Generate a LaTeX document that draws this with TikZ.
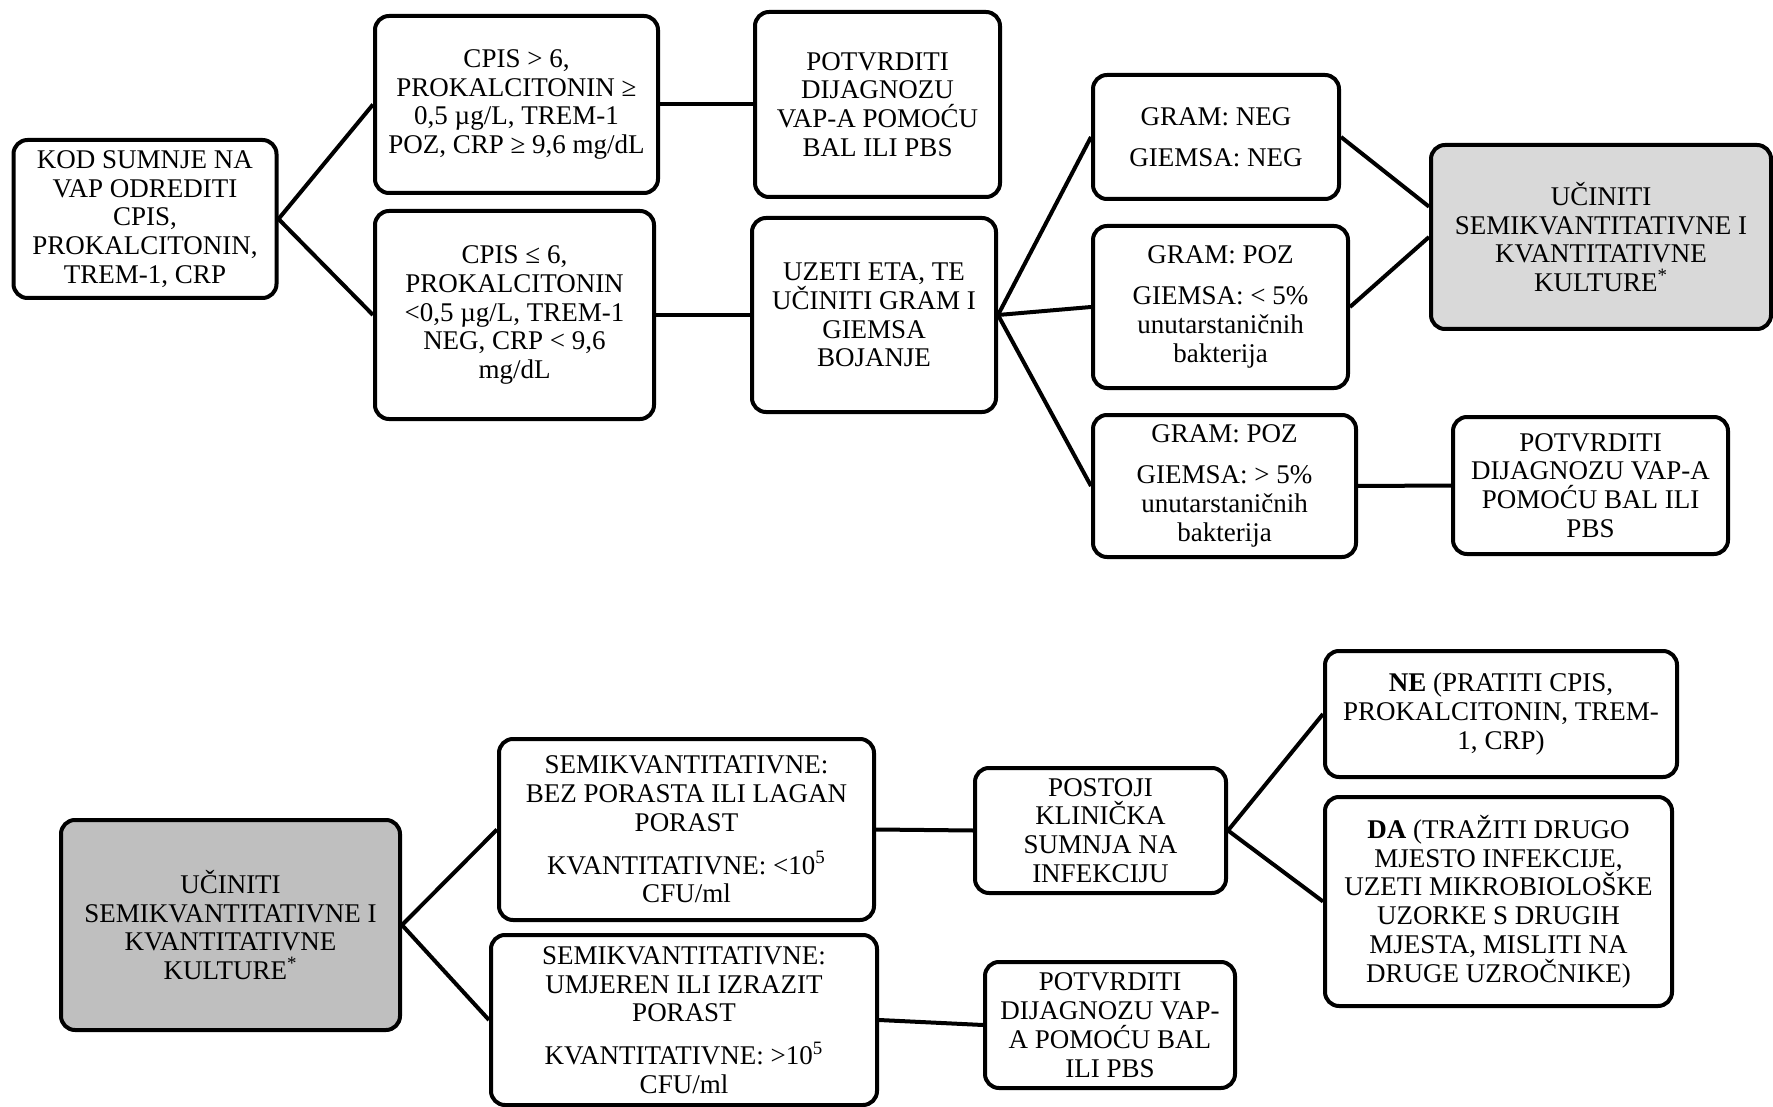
\documentclass[tikz,border=0pt]{standalone}
\usepackage{fontspec}
\setmainfont{Liberation Serif}
\usetikzlibrary{positioning}

\begin{document}
\begin{tikzpicture}[
    x=0.5pt, y=-0.5pt,
    box/.style={draw, line width=2pt, rounded corners=7pt, align=center, inner sep=2pt,
        font=\fontsize{13.5}{14.4}\selectfont},
    lightbox/.style={box, fill=black!15},
    graybox/.style={box, fill=black!25},
    link/.style={line width=2pt}
]
\useasboundingbox (0,0) rectangle (1773,1107);

    % Upper chart: suspicion of VAP
    \node[box, minimum width=131.5pt, minimum height=79pt] (kod) at (145,219)
        {KOD SUMNJE NA\\VAP ODREDITI\\CPIS,\\PROKALCITONIN,\\TREM-1, CRP};
    \node[box, minimum width=141.5pt, minimum height=88.5pt] (hi) at (516.5,104.5)
        {CPIS > 6,\\PROKALCITONIN ≥\\0,5 µg/L, TREM-1\\POZ, CRP ≥ 9,6 mg/dL};
    \node[box, minimum width=122.5pt, minimum height=92.5pt] (pot1) at (877.5,104.5)
        {POTVRDITI\\DIJAGNOZU\\VAP-A POMOĆU\\BAL ILI PBS};
    \node[box, minimum width=139.5pt, minimum height=104pt] (lo) at (514.5,315)
        {CPIS ≤ 6,\\PROKALCITONIN\\<0,5 µg/L, TREM-1\\NEG, CRP < 9,6\\mg/dL};
    \node[box, minimum width=122pt, minimum height=97pt] (eta) at (874,315)
        {UZETI ETA, TE\\UČINITI GRAM I\\GIEMSA\\BOJANJE};

    % Gram and Giemsa results
    \node[box, minimum width=123pt, minimum height=62pt] (gneg) at (1216,137)
        {GRAM: NEG\\[6pt]GIEMSA: NEG};
    \node[box, minimum width=127.5pt, minimum height=81pt] (gposlow) at (1220.5,307)
        {GRAM: POZ\\[6pt]GIEMSA: < 5\%\\unutarstaničnih\\bakterija};
    \node[box, minimum width=131.5pt, minimum height=71pt] (gposhigh) at (1224.5,486)
        {GRAM: POZ\\[6pt]GIEMSA: > 5\%\\unutarstaničnih\\bakterija};
    \node[lightbox, minimum width=170pt, minimum height=92pt] (kult1) at (1601,237)
        {UČINITI\\SEMIKVANTITATIVNE I\\KVANTITATIVNE\\KULTURE\textsuperscript{*}};
    \node[box, minimum width=137.5pt, minimum height=68.5pt] (pot2) at (1590.5,485.5)
        {POTVRDITI\\DIJAGNOZU VAP-A\\POMOĆU BAL ILI\\PBS};

    % Lower chart: cultures
    \node[graybox, minimum width=169.5pt, minimum height=105pt] (kult2) at (230.5,925)
        {UČINITI\\SEMIKVANTITATIVNE I\\KVANTITATIVNE\\KULTURE\textsuperscript{*}};
    \node[box, minimum width=187.5pt, minimum height=90.5pt] (semilow) at (686.5,829.5)
        {SEMIKVANTITATIVNE:\\BEZ PORASTA ILI LAGAN\\PORAST\\[7pt]KVANTITATIVNE: <10\textsuperscript{5}\\CFU/ml};
    \node[box, minimum width=193pt, minimum height=85pt] (semihigh) at (684,1020)
        {SEMIKVANTITATIVNE:\\UMJEREN ILI IZRAZIT\\PORAST\\[7pt]KVANTITATIVNE: >10\textsuperscript{5}\\CFU/ml};
    \node[box, minimum width=125.5pt, minimum height=62.5pt] (klin) at (1100.5,830.5)
        {POSTOJI\\KLINIČKA\\SUMNJA NA\\INFEKCIJU};
    \node[box, minimum width=176pt, minimum height=63pt] (ne) at (1501,714)
        {\textbf{NE} (PRATITI CPIS,\\PROKALCITONIN, TREM-\\1, CRP)};
    \node[box, minimum width=173.5pt, minimum height=104.5pt] (da) at (1498.5,901.5)
        {\textbf{DA} (TRAŽITI DRUGO\\MJESTO INFEKCIJE,\\UZETI MIKROBIOLOŠKE\\UZORKE S DRUGIH\\MJESTA, MISLITI NA\\DRUGE UZROČNIKE)};
    \node[box, minimum width=125pt, minimum height=63pt] (pot3) at (1110,1025)
        {POTVRDITI\\DIJAGNOZU VAP-\\A POMOĆU BAL\\ILI PBS};

    % Connectors
    \path[link]
        (kod.east) edge (hi.west)
        (kod.east) edge (lo.west)
        (hi.east) edge (pot1.west)
        (lo.east) edge (eta.west)
        (eta.east) edge (gneg.west)
        (eta.east) edge (gposlow.west)
        (eta.east) edge (gposhigh.west)
        (gneg.east) edge (kult1.170)
        (gposlow.east) edge (kult1.west)
        (gposhigh.east) edge (pot2.west)
        (kult2.east) edge (semilow.west)
        (kult2.east) edge (semihigh.west)
        (semilow.east) edge (klin.west)
        (semihigh.east) edge (pot3.west)
        (klin.east) edge (ne.west)
        (klin.east) edge (da.west);
\end{tikzpicture}
\end{document}
